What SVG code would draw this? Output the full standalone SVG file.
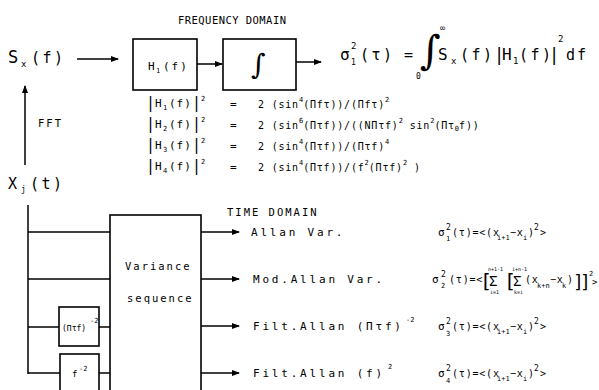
<svg xmlns="http://www.w3.org/2000/svg" width="599" height="390" viewBox="0 0 599 390">
<defs>
<marker id="ah" markerWidth="8" markerHeight="6" refX="7" refY="3" orient="auto" markerUnits="userSpaceOnUse">
<path d="M0,0 L8,3 L0,6 Z" fill="#000"/>
</marker>
<style>
text{font-family:"DejaVu Sans Mono","Liberation Mono",monospace;fill:#000}
.lbl{font-size:11px;letter-spacing:2.8px}
.hdr{font-size:10.5px;letter-spacing:2px}
.big{font-size:15px;letter-spacing:2.5px}
.f{font-size:10px;letter-spacing:0.8px}
.sup{font-size:7px;letter-spacing:0}
.bar{font-size:15px}
.int{font-family:"DejaVu Serif","Liberation Serif",serif}
.ln{stroke:#000;stroke-width:1.5;fill:none}
.bx{stroke:#000;stroke-width:1.6;fill:#fff}
</style>
</defs>
<rect width="599" height="390" fill="#fff"/>

<g id="connectors">
<line class="ln" x1="77" y1="59" x2="118" y2="59" marker-end="url(#ah)"/>
<line class="ln" x1="197" y1="64" x2="222" y2="64" marker-end="url(#ah)"/>
<line class="ln" x1="296" y1="62" x2="321" y2="62" marker-end="url(#ah)"/>
<line class="ln" x1="25" y1="165" x2="25" y2="86" stroke-width="2" marker-end="url(#ah)"/>
<line class="ln" x1="28" y1="205" x2="28" y2="374" stroke-width="2"/>
<line class="ln" x1="28" y1="232" x2="110" y2="232"/>
<line class="ln" x1="28" y1="279" x2="110" y2="279"/>
<line class="ln" x1="28" y1="327" x2="59" y2="327"/>
<line class="ln" x1="99" y1="327" x2="110" y2="327"/>
<line class="ln" x1="28" y1="373" x2="60" y2="373"/>
<line class="ln" x1="99" y1="373" x2="110" y2="373"/>
<line class="ln" x1="201" y1="232" x2="239" y2="232" marker-end="url(#ah)"/>
<line class="ln" x1="201" y1="279" x2="239" y2="279" marker-end="url(#ah)"/>
<line class="ln" x1="201" y1="326" x2="239" y2="326" marker-end="url(#ah)"/>
<line class="ln" x1="201" y1="373" x2="239" y2="373" marker-end="url(#ah)"/>
</g>

<text class="hdr" x="178" y="24" textLength="110">FREQUENCY DOMAIN</text>

<g id="sx">
<text x="8" y="63" font-size="17">S</text>
<text x="21" y="67" font-size="9">x</text>
<text class="big" x="31" y="63">(f)</text>
</g>

<g id="h1box">
<rect class="bx" x="133" y="39" width="64" height="51"/>
<text x="148" y="70" font-size="11">H</text>
<text x="156" y="73" font-size="7">1</text>
<text x="163" y="70" font-size="11" letter-spacing="2">(f)</text>
</g>

<g id="intbox">
<rect class="bx" x="223" y="39" width="73" height="51"/>
<text class="int" x="251" y="74" font-size="28">∫</text>
</g>

<g id="topformula">
<text x="340" y="60" font-size="16">σ</text>
<text x="351" y="49" font-size="9">2</text>
<text x="351" y="65" font-size="8">1</text>
<text class="big" x="360" y="60">(τ)</text>
<text x="404" y="60" font-size="15">=</text>
<text class="int" x="420" y="64" font-size="40">∫</text>
<text x="440" y="31" font-size="9">∞</text>
<text x="416" y="79" font-size="8">0</text>
<text x="438" y="60" font-size="16">S</text>
<text x="451" y="64" font-size="9">x</text>
<text class="big" x="460" y="60">(f)</text>
<text x="494" y="61" font-size="17">|</text>
<text x="502" y="60" font-size="16">H</text>
<text x="513" y="64" font-size="9">1</text>
<text class="big" x="519" y="60">(f)</text>
<text x="549" y="61" font-size="17">|</text>
<text x="558" y="42" font-size="9">2</text>
<text x="566" y="60" font-size="15" letter-spacing="2">df</text>
</g>

<g id="hformulas">
<text x="146" y="108" class="bar">|</text><text x="155" y="107" font-size="11">H</text><text x="163" y="110" class="sup">1</text><text x="169" y="107" font-size="11" letter-spacing="1">(f)</text><text x="192" y="108" class="bar">|</text><text x="201" y="101" class="sup">2</text>
<text x="230" y="108" font-size="11">=</text>
<text class="f" x="258" y="108">2 (sin<tspan class="sup" dy="-6">4</tspan><tspan dy="6">(Πfτ))/(Πfτ)</tspan><tspan class="sup" dy="-6">2</tspan></text>

<text x="146" y="129" class="bar">|</text><text x="155" y="128" font-size="11">H</text><text x="163" y="131" class="sup">2</text><text x="169" y="128" font-size="11" letter-spacing="1">(f)</text><text x="192" y="129" class="bar">|</text><text x="201" y="122" class="sup">2</text>
<text x="230" y="129" font-size="11">=</text>
<text class="f" x="258" y="129">2 (sin<tspan class="sup" dy="-6">6</tspan><tspan dy="6">(Πτf))/((NΠτf)</tspan><tspan class="sup" dy="-6">2</tspan><tspan dy="6"> sin</tspan><tspan class="sup" dy="-6">2</tspan><tspan dy="6">(Πτ</tspan><tspan class="sup" dy="2">0</tspan><tspan dy="-2">f))</tspan></text>

<text x="146" y="150" class="bar">|</text><text x="155" y="149" font-size="11">H</text><text x="163" y="152" class="sup">3</text><text x="169" y="149" font-size="11" letter-spacing="1">(f)</text><text x="192" y="150" class="bar">|</text><text x="201" y="143" class="sup">2</text>
<text x="230" y="150" font-size="11">=</text>
<text class="f" x="258" y="150">2 (sin<tspan class="sup" dy="-6">4</tspan><tspan dy="6">(Πτf))/(Πτf)</tspan><tspan class="sup" dy="-6">4</tspan></text>

<text x="146" y="171" class="bar">|</text><text x="155" y="170" font-size="11">H</text><text x="163" y="173" class="sup">4</text><text x="169" y="170" font-size="11" letter-spacing="1">(f)</text><text x="192" y="171" class="bar">|</text><text x="201" y="164" class="sup">2</text>
<text x="230" y="171" font-size="11">=</text>
<text class="f" x="258" y="171">2 (sin<tspan class="sup" dy="-6">4</tspan><tspan dy="6">(Πτf))/(f</tspan><tspan class="sup" dy="-6">2</tspan><tspan dy="6">(Πτf)</tspan><tspan class="sup" dy="-6">2</tspan><tspan dy="6"> )</tspan></text>
</g>

<text class="hdr" x="38" y="127" font-size="10">FFT</text>

<g id="xj">
<text x="8" y="189" font-size="15">X</text>
<text x="21" y="192" font-size="8">j</text>
<text class="big" x="30" y="189" font-size="14">(t)</text>
</g>

<text class="hdr" x="227" y="216">TIME DOMAIN</text>

<g id="variance">
<rect class="bx" x="110" y="215" width="91" height="180"/>
<text class="hdr" x="125" y="270">Variance</text>
<text class="hdr" x="127" y="302">sequence</text>
</g>

<g id="filt1">
<rect class="bx" x="59" y="307" width="40" height="39"/>
<text x="62" y="331" font-size="8">(Πτf)</text>
<text x="90" y="323" font-size="7">-2</text>
</g>
<g id="filt2">
<rect class="bx" x="60" y="354" width="39" height="40"/>
<text x="72" y="377" font-size="9">f</text>
<text x="79" y="371" font-size="7">-2</text>
</g>

<g id="labels">
<text class="lbl" x="251" y="236">Allan Var.</text>
<text class="lbl" x="253" y="283">Mod.Allan Var.</text>
<text class="lbl" x="253" y="330">Filt.Allan (Πτf)</text>
<text x="406" y="322" font-size="7">-2</text>
<text class="lbl" x="253" y="377">Filt.Allan (f)</text>
<text x="388" y="369" font-size="7">2</text>
</g>

<g id="sigma1">
<text x="438" y="236" font-size="11">σ</text>
<text x="446" y="230" font-size="8">2</text>
<text x="446" y="241" font-size="7">1</text>
<text class="f" x="452" y="236">(τ)=&lt;(x</text>
<text x="497" y="240" font-size="7">i+1</text>
<text class="f" x="510" y="236">−x</text>
<text x="523" y="240" font-size="7">i</text>
<text class="f" x="528" y="236">)</text>
<text x="534" y="230" font-size="8">2</text>
<text class="f" x="540" y="236"> &gt;</text>
</g>

<g id="sigma2">
<text x="432" y="283" font-size="11">σ</text>
<text x="441" y="277" font-size="8">2</text>
<text x="441" y="288" font-size="7">2</text>
<text class="f" x="449" y="283" letter-spacing="0.5">(τ)=&lt;</text>
<text x="480" y="288" font-size="20">[</text>
<text x="489" y="286" font-size="14">Σ</text>
<text x="488" y="271" font-size="5">n+1-1</text>
<text x="490" y="294" font-size="5">i=1</text>
<text x="504" y="288" font-size="20">[</text>
<text x="513" y="286" font-size="14">Σ</text>
<text x="512" y="271" font-size="5">i+n-1</text>
<text x="514" y="294" font-size="5">k=i</text>
<text class="f" x="525" y="283" letter-spacing="0">(x</text>
<text x="537" y="288" font-size="7">k+n</text>
<text class="f" x="550" y="283" letter-spacing="0">−x</text>
<text x="562" y="288" font-size="7">k</text>
<text class="f" x="567" y="283">)</text>
<text x="573" y="288" font-size="18">]</text>
<text x="580" y="288" font-size="18">]</text>
<text x="589" y="276" font-size="7">2</text>
<text x="592" y="285" font-size="9">&gt;</text>
</g>

<g id="sigma3">
<text x="438" y="330" font-size="11">σ</text>
<text x="446" y="324" font-size="8">2</text>
<text x="446" y="336" font-size="7">3</text>
<text class="f" x="452" y="330">(τ)=&lt;(x</text>
<text x="497" y="334" font-size="7">i+1</text>
<text class="f" x="510" y="330">−x</text>
<text x="523" y="334" font-size="7">i</text>
<text class="f" x="528" y="330">)</text>
<text x="534" y="324" font-size="8">2</text>
<text class="f" x="540" y="330"> &gt;</text>
</g>

<g id="sigma4">
<text x="438" y="377" font-size="11">σ</text>
<text x="446" y="371" font-size="8">2</text>
<text x="446" y="383" font-size="7">4</text>
<text class="f" x="452" y="377">(τ)=&lt;(x</text>
<text x="497" y="381" font-size="7">i+1</text>
<text class="f" x="510" y="377">−x</text>
<text x="523" y="381" font-size="7">i</text>
<text class="f" x="528" y="377">)</text>
<text x="534" y="371" font-size="8">2</text>
<text class="f" x="540" y="377"> &gt;</text>
</g>
</svg>
